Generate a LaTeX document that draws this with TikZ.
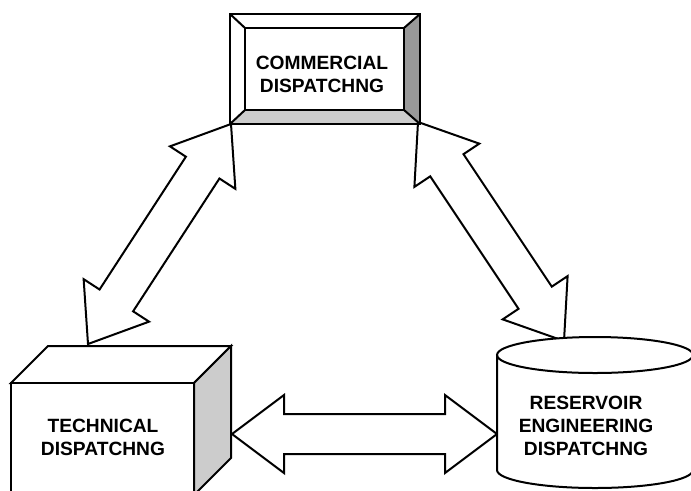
\documentclass[tikz,border=0pt]{standalone}
\usepackage{fontspec}
\setmainfont{Liberation Sans}
\usetikzlibrary{calc}
\definecolor{bevdark}{HTML}{999999}
\definecolor{bevlight}{HTML}{CCCCCC}
\tikzset{
  outl/.style={draw=black, line width=1.5pt, line join=miter},
  fatarrow/.style={outl, fill=white},
  lbl/.style={inner sep=0pt, align=center, font=\bfseries\fontsize{14.4}{17.25}\selectfont}
}
\newcommand\fatarrow[2]{%
  \coordinate (fa1) at ($(#1)!39pt!(#2)$);
  \coordinate (fa2) at ($(#2)!39pt!(#1)$);
  \draw[fatarrow] (#1) -- ($(fa1)!29.25pt!90:(#2)$) -- ($(fa1)!15pt!90:(#2)$)
    -- ($(fa2)!15pt!-90:(#1)$) -- ($(fa2)!29.25pt!-90:(#1)$) -- (#2)
    -- ($(fa2)!29.25pt!90:(#1)$) -- ($(fa2)!15pt!90:(#1)$)
    -- ($(fa1)!15pt!-90:(#2)$) -- ($(fa1)!29.25pt!-90:(#2)$) -- cycle;}
\begin{document}
\begin{tikzpicture}[x=0.75pt,y=0.75pt]
\useasboundingbox (0,0) rectangle (691,-490);
\clip (0,0) rectangle (691,-490);
% arrow end points
\coordinate (commL) at (231,-124);
\coordinate (techT) at (88,-344);
\coordinate (commR) at (418,-122);
\coordinate (resT) at (564,-341);
\coordinate (techR) at (232,-434);
\coordinate (resL) at (497,-434);
% arrows
\fatarrow{commL}{techT}
\fatarrow{commR}{resT}
\fatarrow{techR}{resL}
% commercial box (bevelled)
\fill[white] (230,-14) rectangle (420,-124);
\fill[bevdark] (420,-14) -- (420,-124) -- (404,-110) -- (404,-28) -- cycle;
\fill[bevlight] (230,-124) -- (420,-124) -- (404,-110) -- (245,-110) -- cycle;
\draw[outl] (230,-14) rectangle (420,-124);
\draw[outl] (245,-28) rectangle (404,-110);
\draw[outl] (230,-14) -- (245,-28) (420,-14) -- (404,-28)
  (230,-124) -- (245,-110) (420,-124) -- (404,-110);
\node[lbl] (comm) at (322,-74.5) {COMMERCIAL\\DISPATCHNG};
% technical box (cube)
\draw[outl, fill=white] (11,-383) -- (48,-346) -- (231,-346) -- (194,-383) -- cycle;
\draw[outl, fill=bevlight] (194,-383) -- (231,-346) -- (231,-458) -- (194,-495) -- cycle;
\draw[outl, fill=white] (11,-383) rectangle (194,-500);
\node[lbl] (tech) at (103,-437) {TECHNICAL\\DISPATCHNG};
% reservoir cylinder
\fill[white] (497,-355) -- (497,-470) arc[start angle=180,end angle=360,x radius=98,y radius=18]
  -- (693,-355) arc[start angle=0,end angle=180,x radius=98,y radius=18] -- cycle;
\draw[outl] (497,-355) -- (497,-470) arc[start angle=180,end angle=360,x radius=98,y radius=18]
  -- (693,-355);
\draw[outl] (595,-355) ellipse[x radius=98,y radius=18];
\node[lbl] (res) at (586,-425.5) {RESERVOIR\\ENGINEERING\\DISPATCHNG};
\end{tikzpicture}
\end{document}
